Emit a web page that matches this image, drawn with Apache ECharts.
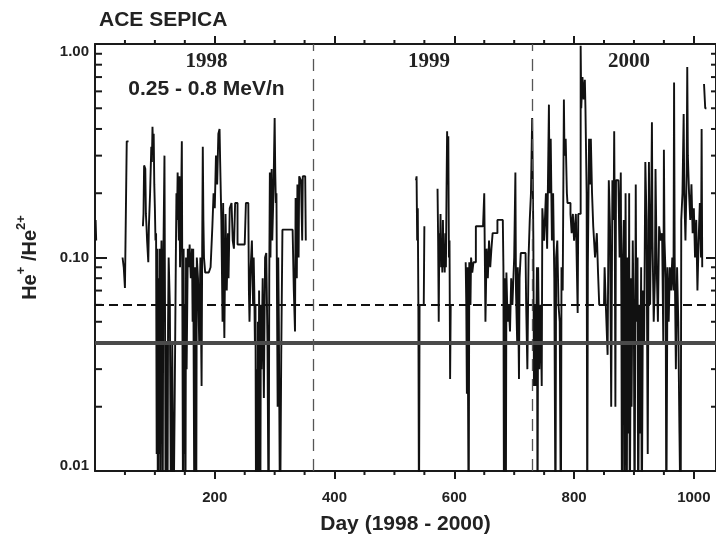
<!DOCTYPE html>
<html>
<head>
<meta charset="utf-8">
<script src="https://cdn.jsdelivr.net/npm/echarts@6/dist/echarts.min.js"></script>
<style>html,body{margin:0;padding:0;background:#fff}#c{width:716px;height:540px}</style>
</head>
<body>
<div id="c"></div>
<script>
// ---------------- data ----------------
const days1998 = [1, 2, 3,
 46, 48, 50, 53, 56, 57,
 80, 81, 82, 84, 85, 86, 87, 89, 90, 92,
 94, 95, 96, 97, 98, 99, 100, 101, 102, 103,
 104, 105, 106, 107, 108, 109, 110, 111, 112, 113,
 114, 116, 117, 118, 119, 120, 121, 122, 123, 125,
 127, 129, 131, 133, 135, 136, 137, 138, 140, 141,
 142, 144, 145, 146, 147, 148, 149, 150, 151, 152,
 153, 155, 157, 158, 160, 162, 163, 164, 166, 167,
 169, 170, 172, 174, 176, 178, 179, 180, 181, 182,
 184, 190, 193, 196, 198, 200, 202, 204, 206, 208,
 209, 211, 213, 214, 215, 216, 218, 220, 222, 223,
 225, 228, 230, 232, 234, 238, 250, 252, 256, 257,
 258, 260, 262, 264, 265, 266, 267, 268, 269, 270,
 271, 272, 273, 274, 275, 276, 277, 278, 280, 282,
 284, 286, 288, 290, 291, 292, 293, 294, 295, 296,
 298, 299, 300, 301, 302, 303, 304, 305, 306, 307,
 309, 311, 313, 330, 332, 334, 335, 337, 338, 340,
 341, 344, 346, 347, 351, 352, 353];
const ratio1998 = [0.15, 0.12, null,
 0.10, 0.09, 0.072, 0.35, 0.35, null,
 0.14, 0.16, 0.27, 0.26, 0.16, 0.14, 0.12, 0.095, 0.14, 0.2,
 0.33, 0.28, 0.41, 0.32, 0.38, 0.22, 0.17, 0.12, 0.13, 0.012,
 0.11, 0.005, 0.08, 0.012, 0.11, 0.005, 0.07, 0.12, 0.05, 0.005,
 0.09, 0.3, 0.05, 0.005, 0.04, 0.02, 0.005, 0.048, 0.1, 0.06,
 0.005, 0.04, 0.005, 0.02, 0.1, 0.2, 0.15, 0.25, 0.12, 0.24,
 0.09, 0.2, 0.35, 0.05, 0.005, 0.11, 0.012, 0.06, 0.005, 0.1,
 0.03, 0.11, 0.09, 0.115, 0.08, 0.11, 0.05, 0.11, 0.005, 0.09,
 0.005, 0.1, 0.08, 0.04, 0.1, 0.025, 0.11, 0.33, 0.15, 0.1,
 0.085, 0.085, 0.09, 0.14, 0.2, 0.17, 0.3, 0.22, 0.38, 0.4,
 0.28, 0.15, 0.05, 0.18, 0.07, 0.042, 0.16, 0.07, 0.13, 0.08,
 0.17, 0.18, 0.12, 0.11, 0.18, 0.115, 0.115, 0.18, 0.18, 0.07,
 0.05, 0.09, 0.12, 0.06, 0.1, 0.07, 0.04, 0.06, 0.005, 0.03,
 0.005, 0.05, 0.005, 0.07, 0.012, 0.005, 0.06, 0.03, 0.08, 0.022,
 0.1, 0.105, 0.04, 0.005, 0.08, 0.25, 0.1, 0.2, 0.26, 0.12,
 0.2, 0.3, 0.45, 0.25, 0.18, 0.2, 0.06, 0.02, 0.1, 0.05,
 0.005, 0.035, 0.135, 0.135, 0.07, 0.045, 0.19, 0.08, 0.22, 0.1,
 0.24, 0.23, 0.12, 0.24, 0.24, 0.12, null];

const days9900 = [536, 537, 538, 539, 540, 541, 542, 549, 550, 551,
 572, 573, 574, 575, 576, 577, 578, 579, 580, 581,
 582, 583, 584, 585, 586, 587, 588, 589, 590, 591,
 592, 593, 594, 595,
 619, 620, 621, 622, 624, 625, 627, 628, 630, 632,
 636, 648, 650, 652, 654, 656, 658, 660, 662, 664,
 667, 672, 681, 682, 683, 684, 686, 687, 689, 691,
 693, 695, 697, 700, 702, 703, 705, 706, 708, 709,
 711, 719, 720, 722, 724, 726, 728, 730, 731, 732,
 733, 735, 736, 738, 739, 740, 742, 744, 746, 747,
 750, 753, 755, 758, 759, 761, 763, 765, 767, 769,
 770, 772, 774, 776, 778, 779, 781, 783, 784, 786,
 788, 789, 794, 796, 798, 800, 803, 806, 807, 809,
 811, 812, 814, 816, 818, 819, 821, 822, 823, 825,
 827, 828, 830, 832, 835, 838, 840, 842, 850, 851,
 853, 856, 857, 858, 860, 862, 864, 866, 867, 868,
 869, 870, 874, 876, 878, 879, 880, 881, 883, 884,
 886, 887, 888, 889, 891, 892, 893, 895, 896, 898,
 900, 901, 903, 904, 906, 907, 909, 910, 912, 913,
 915, 917, 919, 921, 923, 925, 927, 929, 930, 931,
 933, 935, 936, 938, 940, 942, 945, 947, 949, 950,
 951, 953, 954, 956, 958, 960, 962, 964, 966, 967,
 968, 970, 972, 974, 976, 978, 979, 981, 983, 984,
 986, 988, 989, 990, 992, 994, 996, 998, 1000, 1002,
 1004, 1006, 1008, 1010, 1012, 1013, 1014, 1015,
 1017, 1019, 1020, 1021];
const ratio9900 = [0.23, 0.24, 0.12, 0.17, 0.06, 0.005, 0.06, 0.06, 0.14, null,
 0.21, 0.12, 0.05, 0.13, 0.1, 0.16, 0.09, 0.12, 0.085, 0.15,
 0.09, 0.11, 0.085, 0.13, 0.09, 0.2, 0.39, 0.22, 0.37, 0.1,
 0.12, 0.027, 0.06, null,
 0.095, 0.06, 0.023, 0.09, 0.005, 0.095, 0.06, 0.1, 0.085, 0.095,
 0.14, 0.14, 0.2, 0.05, 0.11, 0.08, 0.12, 0.09, 0.11, 0.13,
 0.13, 0.15, 0.15, 0.09, 0.005, 0.08, 0.005, 0.085, 0.05, 0.06,
 0.045, 0.08, 0.06, 0.1, 0.25, 0.07, 0.04, 0.09, 0.027, 0.08,
 0.105, 0.105, 0.06, 0.03, 0.1, 0.15, 0.2, 0.45, 0.25, 0.12,
 0.025, 0.06, 0.025, 0.09, 0.005, 0.09, 0.03, 0.06, 0.025, 0.17,
 0.12, 0.2, 0.11, 0.52, 0.2, 0.36, 0.12, 0.2, 0.08, 0.005,
 0.1, 0.12, 0.06, 0.05, 0.005, 0.09, 0.07, 0.55, 0.3, 0.36,
 0.2, 0.18, 0.16, 0.13, 0.16, 0.12, 0.16, 0.055, 0.16, 0.16,
 0.98, 0.5, 0.7, 0.55, 0.68, 0.5, 0.2, 0.005, 0.09, 0.36,
 0.22, 0.36, 0.2, 0.14, 0.1, 0.13, 0.085, 0.06, 0.06, 0.09,
 0.06, 0.035, 0.09, 0.23, 0.14, 0.02, 0.23, 0.15, 0.39, 0.13,
 0.02, 0.23, 0.23, 0.1, 0.25, 0.06, 0.005, 0.08, 0.15, 0.005,
 0.2, 0.04, 0.005, 0.1, 0.015, 0.2, 0.005, 0.08, 0.02, 0.12,
 0.04, 0.005, 0.22, 0.05, 0.1, 0.005, 0.06, 0.015, 0.09, 0.005,
 0.07, 0.04, 0.28, 0.15, 0.012, 0.28, 0.06, 0.2, 0.43, 0.12,
 0.05, 0.08, 0.26, 0.09, 0.05, 0.14, 0.12, 0.13, 0.04, 0.32,
 0.12, 0.08, 0.005, 0.09, 0.05, 0.09, 0.07, 0.1, 0.07, 0.66,
 0.1, 0.03, 0.09, 0.05, 0.015, 0.005, 0.15, 0.2, 0.47, 0.2,
 0.12, 0.25, 0.78, 0.3, 0.2, 0.15, 0.22, 0.13, 0.17, 0.1,
 0.15, 0.07, 0.12, 0.18, 0.1, 0.4, 0.09, null,
 0.65, 0.5, 0.5, null];

const refLevels = [0.041, 0.062];          // solid, dashed reference levels
const yearStarts = [365, 730];             // year boundaries (day)
const yearLabels = ['1998', '1999', '2000'];
const xMajorTicks = [200, 400, 600, 800, 1000];
const xMinorTicks = [50, 100, 150, 250, 300, 350, 450, 500, 550, 650, 700, 750, 850, 900, 950];
const yMinorTicks = [0.02, 0.03, 0.04, 0.05, 0.06, 0.07, 0.08, 0.09, 0.2, 0.3, 0.4, 0.5, 0.6, 0.7, 0.8, 0.9];

// ---------------- chart ----------------
const FONT = '"Liberation Sans", Arial, sans-serif';
const SERIF = '"Liberation Serif", "Times New Roman", serif';
const INK = '#1a1a1a';
const XMAX = 1037;

const lineData = [];
days1998.forEach((d, i) => lineData.push([d, ratio1998[i] === null ? '-' : ratio1998[i]]));
days9900.forEach((d, i) => lineData.push([d, ratio9900[i] === null ? '-' : ratio9900[i]]));

const chart = echarts.init(document.getElementById('c'), null, {renderer: 'canvas'});

const axisLineStyle = {color: INK, width: 2};

const option = {
  animation: false,
  backgroundColor: '#fff',
  grid: {left: 95, top: 44, width: 622, height: 429},
  xAxis: [{
    type: 'value', min: 0, max: XMAX, interval: 200, position: 'bottom',
    axisLine: {show: true, onZero: false, lineStyle: axisLineStyle},
    axisTick: {show: true, inside: false, length: 8, customValues: xMajorTicks, lineStyle: {color: INK, width: 2}},
    axisLabel: {customValues: xMajorTicks, margin: 19, fontSize: 15, fontWeight: 'bold', fontFamily: FONT, color: '#222',
      formatter: function (v) { return String(Math.round(v)); }},
    splitLine: {show: false},
    name: 'Day (1998 - 2000)', nameLocation: 'middle', nameGap: 43,
    nameTextStyle: {fontSize: 21, fontWeight: 'bold', fontFamily: FONT, color: '#222'}
  }, {
    type: 'value', min: 0, max: XMAX, interval: 200, position: 'top',
    axisLine: {show: true, onZero: false, lineStyle: axisLineStyle},
    axisTick: {show: true, inside: false, length: 8, customValues: xMajorTicks, lineStyle: {color: INK, width: 2}},
    axisLabel: {show: false},
    splitLine: {show: false}
  }],
  yAxis: [{
    type: 'log', logBase: 10, min: 0.01, max: 1, position: 'left',
    axisLine: {show: true, onZero: false, lineStyle: axisLineStyle},
    axisTick: {show: true, inside: true, length: 12, lineStyle: {color: INK, width: 2}},
    axisLabel: {
      margin: 6,
      formatter: function (v) {
        const s = Number(v).toFixed(2);
        if (v > 0.5) return '{t|' + s + '}';
        if (v < 0.02) return '{b|' + s + '}';
        return '{m|' + s + '}';
      },
      rich: {
        t: {fontSize: 15, fontWeight: 'bold', fontFamily: FONT, color: '#222', padding: [16, 0, 0, 0]},
        b: {fontSize: 15, fontWeight: 'bold', fontFamily: FONT, color: '#222', padding: [0, 0, 10, 0]},
        m: {fontSize: 15, fontWeight: 'bold', fontFamily: FONT, color: '#222'}
      }
    },
    splitLine: {show: false},
    name: '{a|He}{s|+}{a| /He}{s|2+}', nameLocation: 'middle', nameRotate: 90, nameGap: 50,
    nameTextStyle: {
      rich: {
        a: {fontSize: 20, fontWeight: 'bold', fontFamily: FONT, color: '#222', lineHeight: 30},
        s: {fontSize: 13, fontWeight: 'bold', fontFamily: FONT, color: '#222', lineHeight: 14, verticalAlign: 'top'}
      }
    }
  }, {
    type: 'log', logBase: 10, min: 0.01, max: 1, position: 'right',
    axisLine: {show: true, onZero: false, lineStyle: axisLineStyle},
    axisTick: {show: true, inside: true, length: 10, lineStyle: {color: INK, width: 2}},
    axisLabel: {show: false},
    splitLine: {show: false}
  }],
  series: [{
    type: 'line', data: [], z: 1, silent: true,
    markLine: {
      silent: true, symbol: ['none', 'none'], label: {show: false}, animation: false,
      data: [
        {yAxis: refLevels[0], lineStyle: {type: 'solid', color: '#4a4a4a', width: 4}},
        {yAxis: refLevels[1], lineStyle: {type: [9, 5], color: '#111', width: 1.8}},
        {xAxis: yearStarts[0], lineStyle: {type: [12, 8], color: '#555', width: 1.3}},
        {xAxis: yearStarts[1], lineStyle: {type: [12, 8], color: '#555', width: 1.3}}
      ]
    }
  }, {
    type: 'line', data: lineData, step: 'end', symbol: 'none', showSymbol: false,
    connectNulls: false, z: 3, silent: true,
    lineStyle: {color: '#111', width: 1.9}
  }, {
    type: 'custom', silent: true, z: 4,
    data: xMinorTicks.map(v => [v, 0.01]),
    encode: {x: 0, y: 1},
    renderItem: function (params, api) {
      const cs = params.coordSys;
      const x = api.coord([api.value(0), 0.01])[0];
      const st = {stroke: INK, lineWidth: 2};
      return {type: 'group', children: [
        {type: 'line', shape: {x1: x, y1: cs.y + cs.height, x2: x, y2: cs.y + cs.height + 4}, style: st},
        {type: 'line', shape: {x1: x, y1: cs.y, x2: x, y2: cs.y - 4}, style: st}
      ]};
    }
  }, {
    type: 'custom', silent: true, z: 4,
    data: yMinorTicks.map(v => [0, v]),
    encode: {x: 0, y: 1},
    renderItem: function (params, api) {
      const cs = params.coordSys;
      const y = api.coord([0, api.value(1)])[1];
      const st = {stroke: INK, lineWidth: 2};
      return {type: 'group', children: [
        {type: 'line', shape: {x1: cs.x, y1: y, x2: cs.x + 7, y2: y}, style: st},
        {type: 'line', shape: {x1: cs.x + cs.width, y1: y, x2: cs.x + cs.width - 5, y2: y}, style: st}
      ]};
    }
  }],
  graphic: [
    {type: 'text', x: 99, y: 20.5, style: {text: 'ACE SEPICA', font: 'bold 21px ' + FONT, fill: '#222', align: 'left', textAlign: 'left', verticalAlign: 'middle', textVerticalAlign: 'middle'}},
    {type: 'text', x: 206.5, y: 89.5, style: {text: '0.25 - 0.8 MeV/n', font: 'bold 21px ' + FONT, fill: '#222', align: 'center', textAlign: 'center', verticalAlign: 'middle', textVerticalAlign: 'middle'}},
    {type: 'text', x: 206.5, y: 61.5, style: {text: yearLabels[0], font: 'bold 21px ' + SERIF, fill: '#222', align: 'center', textAlign: 'center', verticalAlign: 'middle', textVerticalAlign: 'middle'}},
    {type: 'text', x: 429, y: 61.5, style: {text: yearLabels[1], font: 'bold 21px ' + SERIF, fill: '#222', align: 'center', textAlign: 'center', verticalAlign: 'middle', textVerticalAlign: 'middle'}},
    {type: 'text', x: 629, y: 61.5, style: {text: yearLabels[2], font: 'bold 21px ' + SERIF, fill: '#222', align: 'center', textAlign: 'center', verticalAlign: 'middle', textVerticalAlign: 'middle'}}
  ]
};
chart.setOption(option);
</script>
</body>
</html>
